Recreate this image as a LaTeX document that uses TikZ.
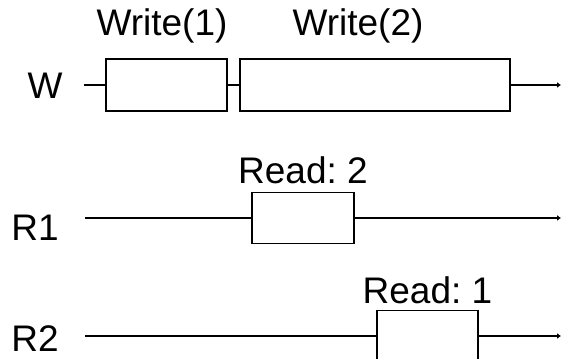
\documentclass[tikz,border=0pt]{standalone}
\usepackage{fontspec}
\setmainfont{Liberation Sans}
\usepackage{tikz}
\usetikzlibrary{arrows.meta, positioning}
\frenchspacing

\begin{document}
\begin{tikzpicture}[x=1pt, y=1pt,
    every node/.style={font=\fontsize{37}{44}\selectfont, inner sep=0pt},
    opbox/.style={draw, line width=1.6pt, minimum height=52pt},
    lane/.style={line width=1.6pt},
    timeline/.style={line width=1.6pt, -{Latex[length=4pt, width=6pt]}}]
    % Picture frame
    \useasboundingbox (0,0) rectangle (561,358);
    \clip (0,0) rectangle (561,358);
    % Heights of the three lanes
    \def\yW{273}
    \def\yRone{140}
    \def\yRtwo{22}

    % Writer lane
    \node[anchor=base] (wlabel) at (45,259) {W};
    \coordinate (wstart) at (84,\yW);
    \coordinate (wend) at (561,\yW);
    \node[opbox, minimum width=121pt] (write1) at (166.5,\yW) {};
    \node[opbox, minimum width=270pt] (write2) at (375,\yW) {};
    \node[anchor=base] (write1text) at (162,322) {Write(1)};
    \node[anchor=base] (write2text) at (358,322) {Write(2)};
    \draw[lane] (wstart) -- (write1.west);
    \draw[lane] (write1.east) -- (write2.west);
    \draw[timeline] (write2.east) -- (wend);

    % First reader lane
    \node[anchor=base] (ronelabel) at (35,117) {R1};
    \coordinate (ronestart) at (85,\yRone);
    \coordinate (roneend) at (561,\yRone);
    \node[opbox, minimum width=102pt, minimum height=51pt] (read1) at (303,\yRone) {};
    \node[anchor=base] (read1text) at (303,174) {Read: 2};
    \draw[lane] (ronestart) -- (read1.west);
    \draw[timeline] (read1.east) -- (roneend);

    % Second reader lane
    \node[anchor=base] (rtwolabel) at (35,6) {R2};
    \coordinate (rtwostart) at (85,\yRtwo);
    \coordinate (rtwoend) at (561,\yRtwo);
    \node[opbox, minimum width=101pt, minimum height=51pt] (read2) at (427.5,\yRtwo) {};
    \node[anchor=base] (read2text) at (427.5,54) {Read: 1};
    \draw[lane] (rtwostart) -- (read2.west);
    \draw[timeline] (read2.east) -- (rtwoend);
\end{tikzpicture}
\end{document}
